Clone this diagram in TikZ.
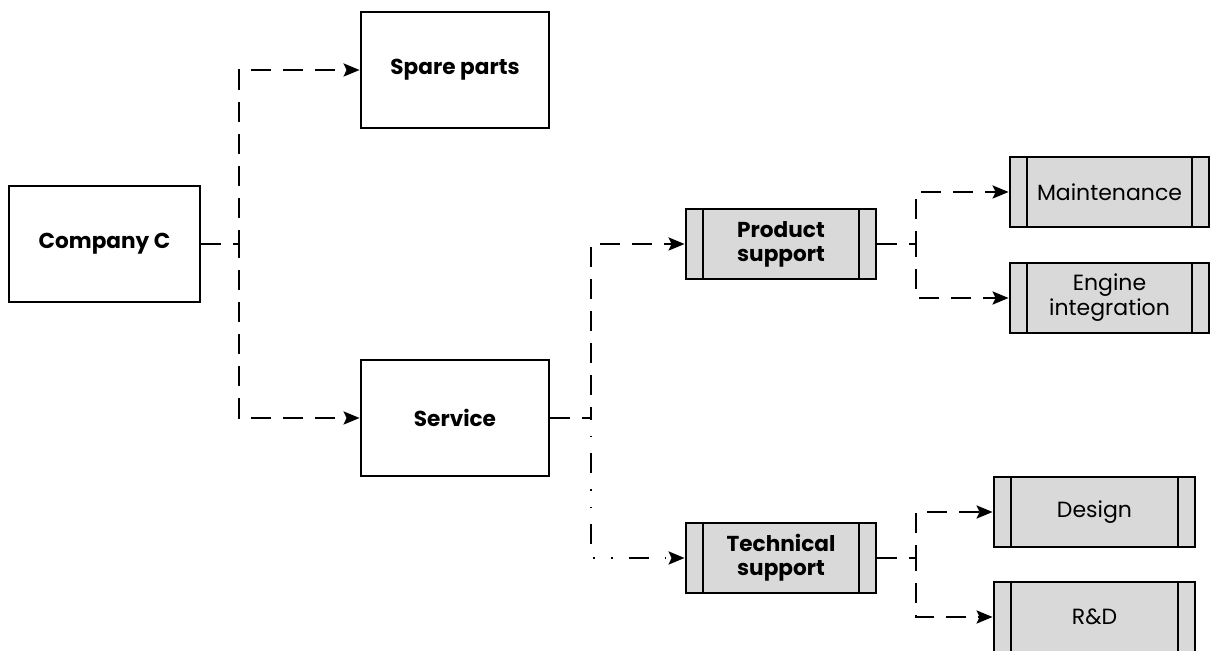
\documentclass[tikz,border=0pt]{standalone}
\usepackage{fontspec}
\setmainfont{Poppins}
\usetikzlibrary{arrows.meta}
\definecolor{boxgrey}{HTML}{D9D9D9}
\tikzset{
  box/.style={draw, line width=1.4pt, inner sep=0pt, align=center, font=\bfseries\fontsize{10.8}{12}\selectfont},
  bigbox/.style={box, minimum width=94pt, minimum height=58pt},
  subproc/.style={box, fill=boxgrey, minimum height=35pt,
    path picture={
      \draw[line width=1.4pt] ([xshift=8.5pt]path picture bounding box.north west) -- ([xshift=8.5pt]path picture bounding box.south west);
      \draw[line width=1.4pt] ([xshift=-8.5pt]path picture bounding box.north east) -- ([xshift=-8.5pt]path picture bounding box.south east);
    }},
  leaf/.style={subproc, font=\fontsize{11}{12.5}\selectfont},
  tip/.style={-{Stealth[length=8pt,width=6.5pt,inset=1.5pt]}},
  conn/.style={line width=1.3pt, dash pattern=on 10pt off 6pt, tip},
  dotconn/.style={line width=1.3pt, dash pattern=on 0.8pt off 8pt on 0.8pt off 8pt on 10pt off 8pt, tip}
}
\begin{document}
\begin{tikzpicture}[x=0.5pt,y=-0.5pt]
\useasboundingbox (0,0) rectangle (1211,651);
\node[bigbox, minimum width=95.5pt] (cc) at (104.5,244) {Company C};
\node[bigbox] (spare) at (455,70) {Spare parts};
\node[bigbox] (service) at (455,418) {Service};
\node[subproc, minimum width=95pt] (prod) at (781,244) {Product\\support};
\node[subproc, minimum width=95pt] (tech) at (781,558) {Technical\\support};
\node[leaf, minimum width=99.5pt] (maint) at (1109.5,192) {Maintenance};
\node[leaf, minimum width=99.5pt] (engine) at (1109.5,298) {Engine\\integration};
\node[leaf, minimum width=100.5pt] (design) at (1094.5,512) {Design};
\node[leaf, minimum width=100.5pt] (rd) at (1094.5,617) {R\&D};

\coordinate (j1) at (239,244);
\coordinate (j2) at (591,418);
\coordinate (j3) at (916,244);
\coordinate (j4) at (916,558);

\draw[conn] (cc.east) -- (j1) |- (spare.west);
\draw[conn] (cc.east) -- (j1) |- (service.west);
\draw[conn] (service.east) -- (j2) |- (prod.west);
\draw[dotconn] (j2) |- (tech.west);
\draw[conn] (prod.east) -- (j3) |- (maint.west);
\draw[conn] (prod.east) -- (j3) |- (engine.west);
\draw[conn] (tech.east) -- (j4) |- (design.west);
\draw[conn] (tech.east) -- (j4) |- (rd.west);
\end{tikzpicture}
\end{document}
